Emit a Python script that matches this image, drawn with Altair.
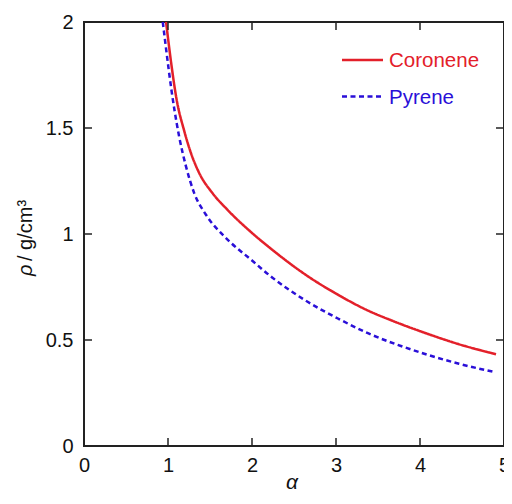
import altair as alt
import pandas as pd

# ---- data ----
coronene_alpha = [0.977, 1.04, 1.10, 1.194, 1.273, 1.371, 1.529, 1.706, 2.0, 2.24, 2.63, 3.03, 3.38, 3.676, 4.07, 4.464, 4.905]
coronene_rho = [2.0, 1.80, 1.64, 1.485, 1.382, 1.288, 1.193, 1.115, 1.005, 0.926, 0.810, 0.712, 0.639, 0.590, 0.532, 0.480, 0.433]

pyrene_alpha = [0.938, 1.076, 1.135, 1.214, 1.312, 1.45, 1.667, 2.0, 2.24, 2.63, 3.03, 3.38, 3.735, 4.07, 4.464, 4.897]
pyrene_rho = [2.0, 1.587, 1.455, 1.319, 1.193, 1.092, 0.99, 0.875, 0.795, 0.688, 0.600, 0.532, 0.477, 0.433, 0.388, 0.348]

series_names = ["Coronene", "Pyrene"]
series_colors = ["#e3202a", "#2a0fd8"]
series_dash = [[1, 0], [5, 3.5]]

x_ticks = [0, 1, 2, 3, 4, 5]
y_ticks = [0, 0.5, 1, 1.5, 2]

W, H = 420, 424
TICK = 8
FONT = "Liberation Sans"

rows = []
for a, r in zip(coronene_alpha, coronene_rho):
    rows.append({"series": "Coronene", "alpha": a, "rho": r})
for a, r in zip(pyrene_alpha, pyrene_rho):
    rows.append({"series": "Pyrene", "alpha": a, "rho": r})
df = pd.DataFrame(rows)

xscale = alt.Scale(domain=[0, 5], nice=False, zero=False)
yscale = alt.Scale(domain=[0, 2], nice=False, zero=False)

xaxis = alt.Axis(values=x_ticks, ticks=False, domain=False, grid=False, labelFontSize=20,
                 labelFont=FONT, labelColor="#111", labelPadding=9, title=None, labelFlush=False,
                 labelExpr="format(datum.value, '~g')")
yaxis = alt.Axis(values=y_ticks, ticks=False, domain=False, grid=False, labelFontSize=20,
                 labelFont=FONT, labelColor="#111", labelPadding=11, title=None,
                 labelFlush=False, labelExpr="format(datum.value, '~g')")

lines = alt.Chart(df).mark_line(strokeWidth=2.5, interpolate="monotone", clip=True).encode(
    x=alt.X("alpha:Q", scale=xscale, axis=xaxis),
    y=alt.Y("rho:Q", scale=yscale, axis=yaxis),
    color=alt.Color("series:N", scale=alt.Scale(domain=series_names, range=series_colors), legend=None),
    strokeDash=alt.StrokeDash("series:N", scale=alt.Scale(domain=series_names, range=series_dash), legend=None),
    detail="series:N",
)

xt = pd.DataFrame({"v": x_ticks})
yt = pd.DataFrame({"v": y_ticks})
tick_color = "#222"
xb = alt.Chart(xt).mark_rule(color=tick_color, strokeWidth=1.5).encode(
    x=alt.X("v:Q", scale=xscale), y=alt.value(H), y2=alt.value(H - TICK))
xtop = alt.Chart(xt).mark_rule(color=tick_color, strokeWidth=1.5).encode(
    x=alt.X("v:Q", scale=xscale), y=alt.value(0), y2=alt.value(TICK))
yl = alt.Chart(yt).mark_rule(color=tick_color, strokeWidth=1.5).encode(
    y=alt.Y("v:Q", scale=yscale), x=alt.value(0), x2=alt.value(TICK))
yr = alt.Chart(yt).mark_rule(color=tick_color, strokeWidth=1.5).encode(
    y=alt.Y("v:Q", scale=yscale), x=alt.value(W), x2=alt.value(W - TICK))

# legend (manual, inside top-right)
leg_layers = []
leg_y = [38, 74.5]
for name, col, dash, yy in zip(series_names, series_colors, series_dash, leg_y):
    d = pd.DataFrame({"series": [name]})
    leg_layers.append(alt.Chart(d).mark_rule(color=col, strokeWidth=2.5, strokeDash=dash).encode(
        x=alt.value(258), x2=alt.value(299), y=alt.value(yy)))
    leg_layers.append(alt.Chart(d).mark_text(color=col, fontSize=20.5, font=FONT, align="left",
                                             baseline="middle").encode(
        x=alt.value(305), y=alt.value(yy + 1), text="series:N"))

# axis titles
one = pd.DataFrame({"t": [0]})
ytitle_rho = alt.Chart(one).mark_text(text="ρ", fontSize=20, font=FONT, fontStyle="italic",
                                      angle=270, align="left", baseline="alphabetic", color="#111").encode(
    x=alt.value(-52), y=alt.value(254))
ytitle_rest = alt.Chart(one).mark_text(text="/ g/cm³", fontSize=20, font=FONT,
                                       angle=270, align="left", baseline="alphabetic", color="#111").encode(
    x=alt.value(-52), y=alt.value(239))
xtitle = alt.Chart(one).mark_text(text="α", fontSize=21, font=FONT, fontStyle="italic",
                                  align="center", baseline="alphabetic", color="#111").encode(
    x=alt.value(208), y=alt.value(467))

chart = alt.layer(lines, xb, xtop, yl, yr, *leg_layers, ytitle_rho, ytitle_rest, xtitle).properties(
    width=W, height=H,
    autosize=alt.AutoSizeParams(type="none"),
    padding={"left": 76, "top": 14, "right": 0, "bottom": 48},
).configure(background="white").configure_view(stroke="#222", strokeWidth=2)

chart.save("out.html", embed_options={"renderer": "svg", "actions": False})
